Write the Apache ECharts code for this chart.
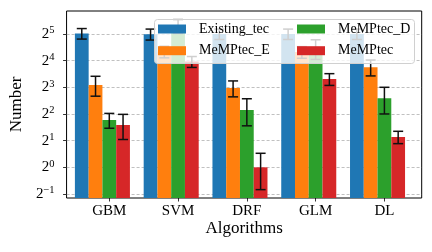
<!DOCTYPE html>
<html>
<head>
<meta charset="utf-8">
<script src="https://cdn.jsdelivr.net/npm/echarts@6/dist/echarts.min.js"></script>
<style>html,body{margin:0;padding:0;background:#fff}#c{width:432px;height:252px}</style>
</head>
<body>
<div id="c"></div>
<script>
const categories = ['GBM', 'SVM', 'DRF', 'GLM', 'DL'];
const seriesNames = ['Existing_tec', 'MeMPtec_E', 'MeMPtec_D', 'MeMPtec'];
const existingTec = [32.4, 31.8, 32.0, 32.0, 32.0];
const existingTecErr = [4.4, 4.5, 4.3, 4.3, 4.3];
const memptecE = [8.5, 20.2, 7.84, 20.0, 13.5];
const memptecEErr = [2.15, 3.0, 1.6, 3.0, 2.75];
const memptecD = [3.41, 39.4, 4.44, 22.0, 6.0];
const memptecDErr = [0.65, 7.0, 1.5, 5.5, 2.0];
const memptec = [3.01, 15.6, 1.0, 9.9, 2.2];
const memptecErr = [0.95, 2.2, 0.44, 1.5, 0.35];
const yTickExponents = [-1, 0, 1, 2, 3, 4, 5];
const yMinExp = -1.15, yMaxExp = 5.86;

const colors = ['#1f77b4', '#ff7f0e', '#2ca02c', '#d62728'];
const FONT = 'Liberation Serif';
const values = [existingTec, memptecE, memptecD, memptec];
const errs = [existingTecErr, memptecEErr, memptecDErr, memptecErr];
const toAxis = v => Math.log2(v) - yMinExp;
const axisMax = yMaxExp - yMinExp;
const tickVals = yTickExponents.map(e => e - yMinExp);

const barSeries = seriesNames.map((n, i) => ({
  type: 'bar', name: n, xAxisIndex: 1, yAxisIndex: 1,
  data: values[i].map(toAxis), barWidth: '20%', barGap: '0%',
  itemStyle: { color: colors[i] }, z: 2
}));
barSeries.push({ type: 'bar', name: '_pad', xAxisIndex: 1, yAxisIndex: 1,
  data: categories.map(() => '-'), barWidth: '20%', barGap: '0%' });

const errData = [];
values.forEach((arr, si) => arr.forEach((v, ci) => {
  errData.push([ci, si, toAxis(v - errs[si][ci]), toAxis(v + errs[si][ci])]);
}));

const errSeries = {
  type: 'custom', name: 'err', xAxisIndex: 1, yAxisIndex: 1, z: 3,
  encode: { x: 0, y: [2, 3] },
  data: errData,
  renderItem: function (params, api) {
    const ci = api.value(0), si = api.value(1);
    const band = api.size([1, 0])[0];
    const lo = api.coord([ci, api.value(2)]);
    const hi = api.coord([ci, api.value(3)]);
    const x = lo[0] + (si - 2) * band * 0.2;
    const st = { stroke: '#111', lineWidth: 1.5 };
    const cap = 5;
    return { type: 'group', children: [
      { type: 'line', shape: { x1: x, y1: lo[1], x2: x, y2: hi[1] }, style: st },
      { type: 'line', shape: { x1: x - cap, y1: lo[1], x2: x + cap, y2: lo[1] }, style: st },
      { type: 'line', shape: { x1: x - cap, y1: hi[1], x2: x + cap, y2: hi[1] }, style: st }
    ]};
  }
};

const legendCommon = {
  orient: 'vertical', top: 21, itemWidth: 28, itemHeight: 9, itemGap: 5.7, padding: 0,
  icon: 'rect', z: 20,
  textStyle: { fontFamily: FONT, fontSize: 14, color: '#000', lineHeight: 16, padding: [0, 0, 0, 8] }
};

const chart = echarts.init(document.getElementById('c'), null, { renderer: 'canvas' });
chart.setOption({
  animation: false,
  color: colors,
  graphic: { elements: [{
    type: 'rect', left: 154, top: 19, z: 10,
    shape: { width: 260, height: 44, r: 3 },
    style: { fill: 'rgba(255,255,255,0.8)', stroke: '#d0d0d0', lineWidth: 1 }
  }]},
  legend: [
    Object.assign({ left: 158, data: [seriesNames[0], seriesNames[1]] }, legendCommon),
    Object.assign({ left: 297, data: [seriesNames[2], seriesNames[3]] }, legendCommon)
  ],
  grid: [
    { left: 60, right: 10.3, top: 11, bottom: 54, show: true, borderColor: '#000', borderWidth: 1, backgroundColor: 'transparent' },
    { left: 74.9, right: 13.2, top: 11, bottom: 54 }
  ],
  xAxis: [
    { type: 'value', gridIndex: 0, min: 0, max: 1,
      axisLine: { show: false }, axisTick: { show: false }, axisLabel: { show: false }, splitLine: { show: false },
      name: 'Algorithms', nameLocation: 'middle', nameGap: 22,
      nameTextStyle: { fontFamily: FONT, fontSize: 17, color: '#000' } },
    { type: 'category', gridIndex: 1, data: categories, boundaryGap: true,
      axisLine: { show: false },
      axisTick: { show: true, alignWithLabel: true, length: 3.5, lineStyle: { color: '#000', width: 0.8 } },
      axisLabel: { fontFamily: FONT, fontSize: 15, color: '#000', margin: 6 },
      splitLine: { show: false } }
  ],
  yAxis: [
    { type: 'value', gridIndex: 0, min: 0, max: axisMax,
      axisLine: { show: false },
      axisTick: { show: true, length: 3.5, customValues: tickVals, lineStyle: { color: '#000', width: 0.8 } },
      axisLabel: { customValues: tickVals, margin: 12,
        formatter: function (v) {
          const e = Math.round(v + yMinExp);
          return '{b|2}{s|' + (e < 0 ? '\u2212' + (-e) : e) + '}';
        },
        rich: {
          b: { fontFamily: FONT, fontSize: 15, color: '#000', lineHeight: 18 },
          s: { fontFamily: FONT, fontSize: 10.5, color: '#000', lineHeight: 7, verticalAlign: 'top' }
        } },
      splitLine: { show: true, lineStyle: { color: '#b0b0b0', type: [3, 2], width: 0.8 } },
      name: 'Number', nameLocation: 'middle', nameGap: 35,
      nameTextStyle: { fontFamily: FONT, fontSize: 17, color: '#000' } },
    { type: 'value', gridIndex: 1, min: 0, max: axisMax, show: false, splitLine: { show: false } }
  ],
  series: barSeries.concat([errSeries])
});
</script>
</body>
</html>
